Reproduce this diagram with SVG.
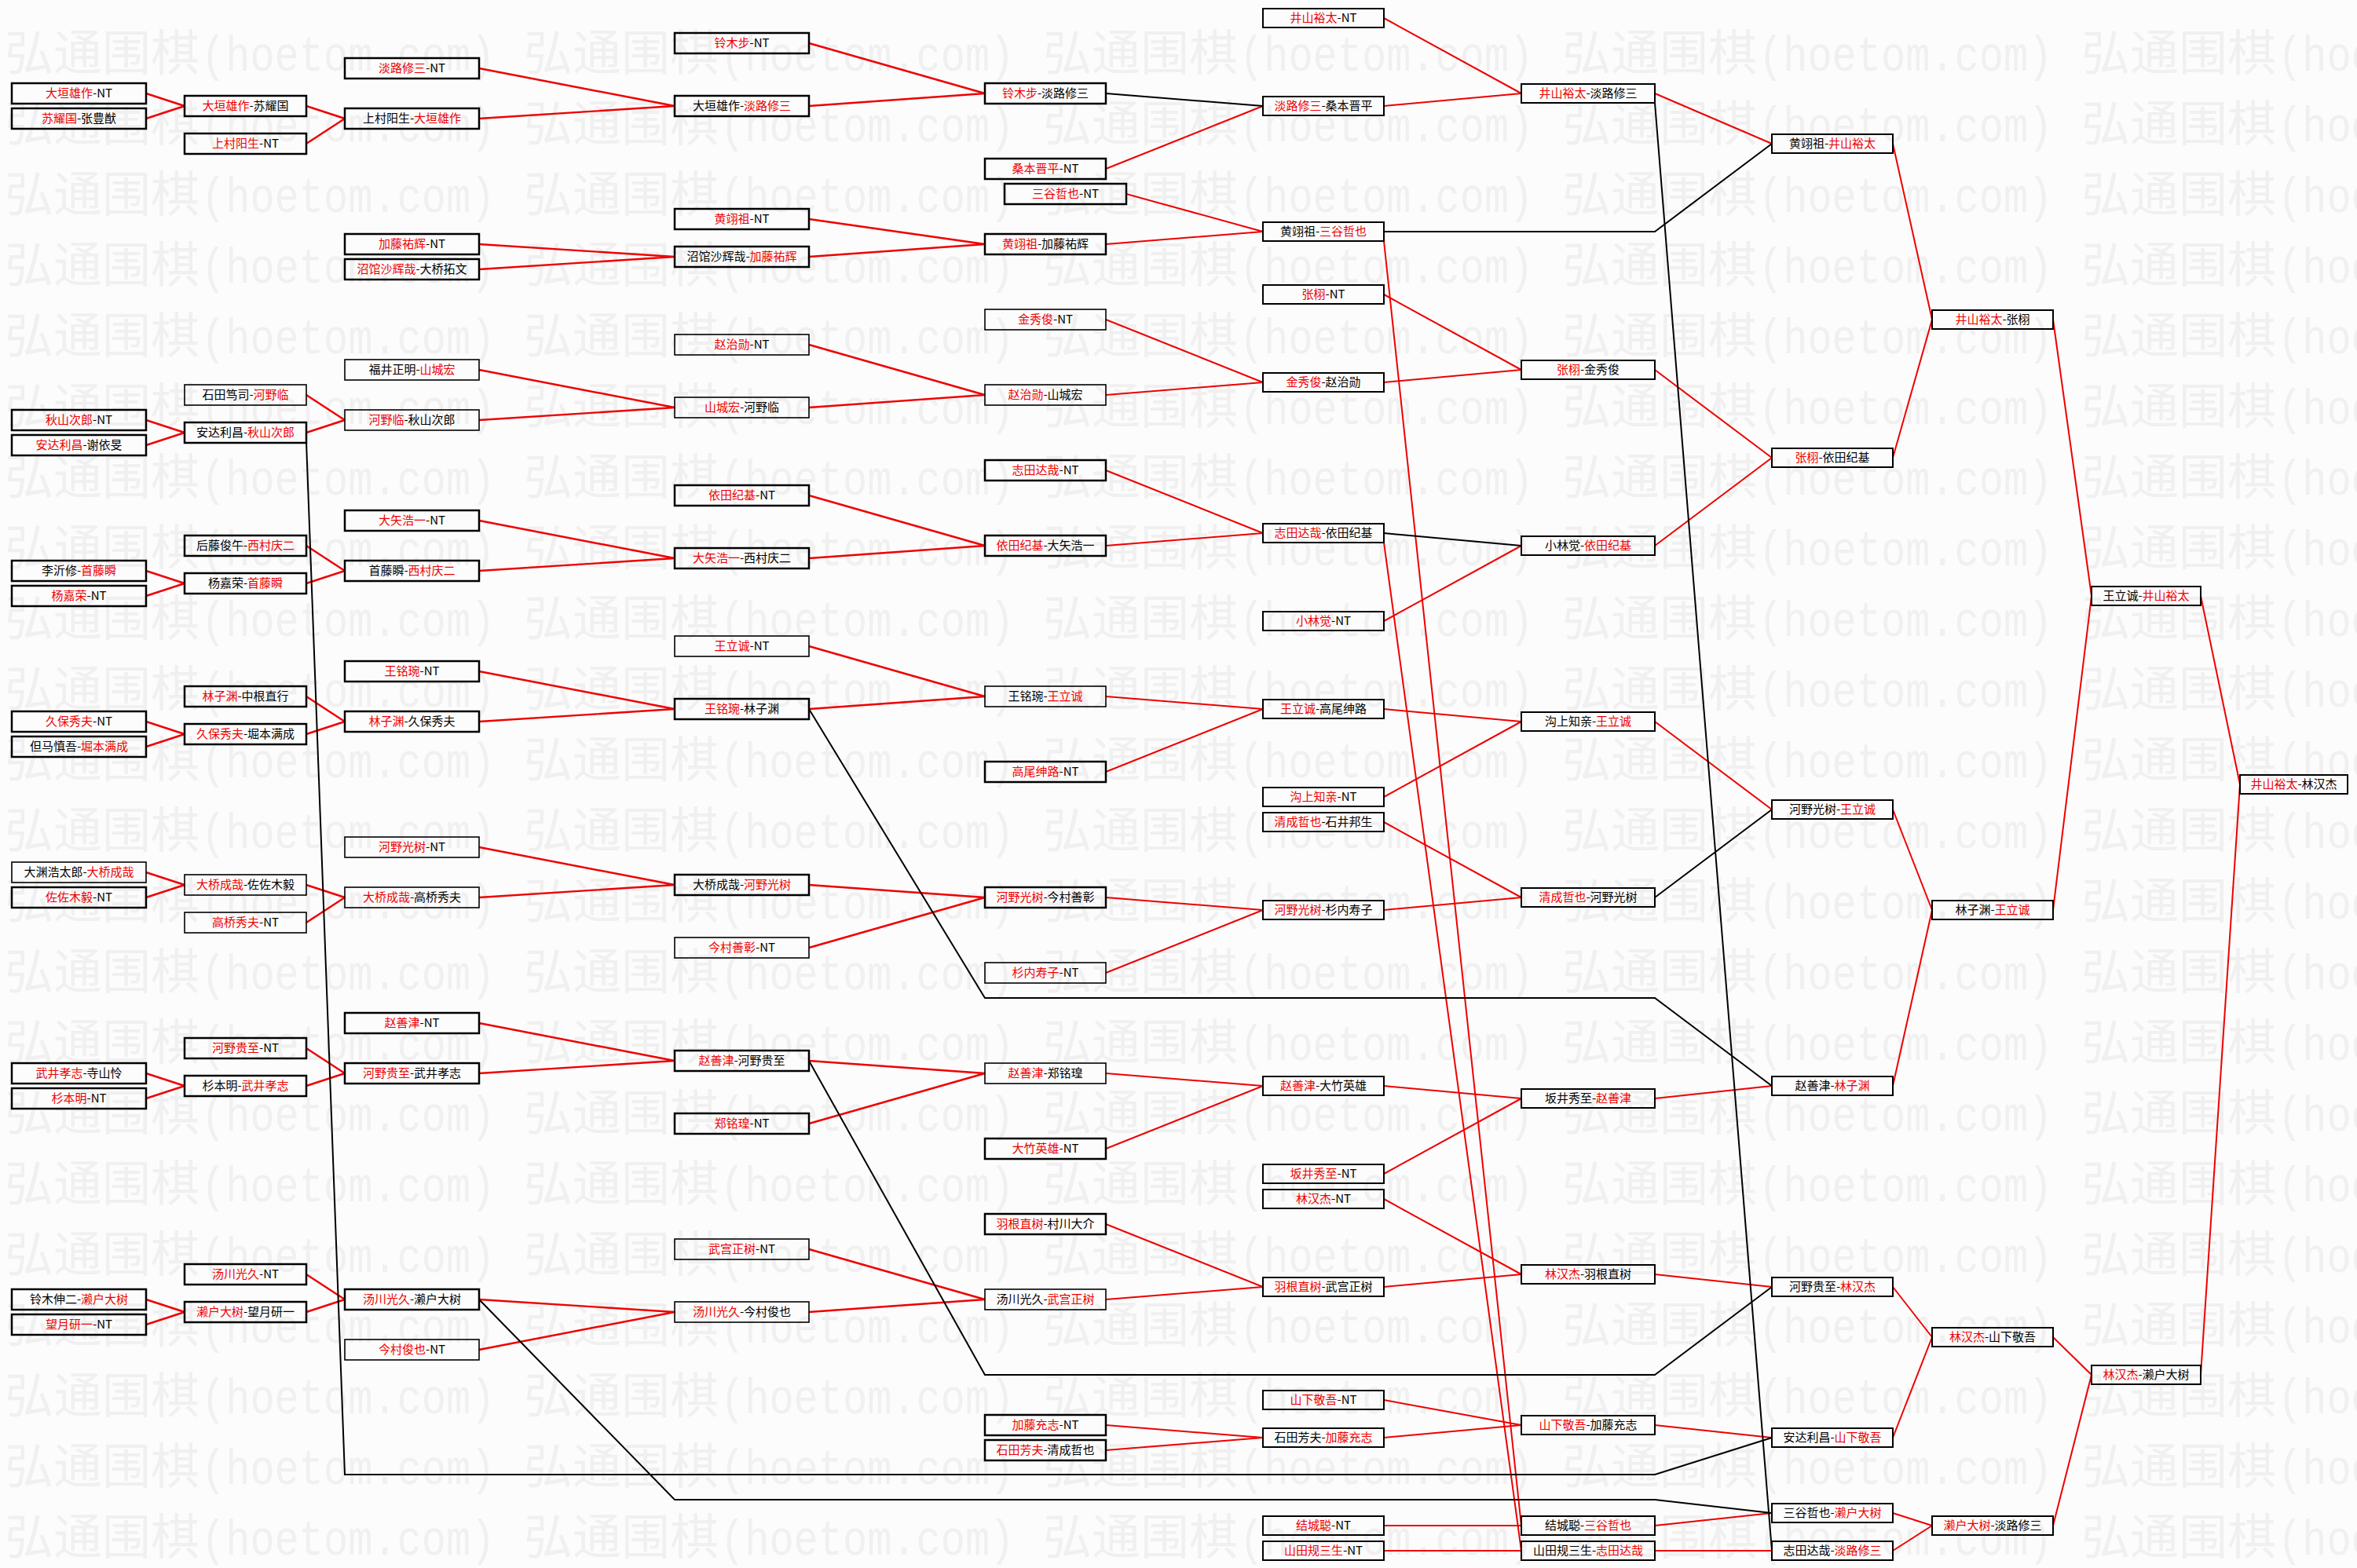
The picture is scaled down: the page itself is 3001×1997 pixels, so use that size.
<svg xmlns="http://www.w3.org/2000/svg" width="3001" height="1997" viewBox="0 0 3001 1997">
<style>
.bx{fill:none;stroke:#000;stroke-width:2.5}
.thin{stroke-width:1.6}
.rb{fill:none;stroke:#000;stroke-width:2}
.t{font-family:"Noto Sans CJK SC","Noto Sans",sans-serif;font-size:15px;fill:#000;text-anchor:middle}
.r{fill:#ee0000}
.lr{fill:none;stroke:#ee0000;stroke-width:2.4}
.lr2{fill:none;stroke:#ee0000;stroke-width:2}
.lb{fill:none;stroke:#000;stroke-width:2}
.wm1{font-family:"Noto Sans CJK SC",sans-serif;font-size:62px;fill:#f0f0f0}
.wm2{font-family:"Liberation Mono",monospace;font-size:52px;fill:#f0f0f0}
</style>
<defs>
<pattern id="wm" patternUnits="userSpaceOnUse" x="6" y="30" width="661" height="90">
<text class="wm1" x="0" y="60">弘通围棋</text>
<text class="wm2" transform="translate(250,60) scale(1,1.2)" x="0" y="0">(hoetom.com)</text>
</pattern>
</defs>
<rect x="0" y="0" width="3001" height="1997" fill="#fcfcfc"/>
<rect x="0" y="30" width="3001" height="1967" fill="url(#wm)"/>

<g id="connectors">
<path class="lr" d="M186 119L235 135M186 151L235 135M186 535L235 551M186 567L235 551M186 727L235 743M186 759L235 743M186 919L235 935M186 951L235 935M186 1111L235 1127M186 1143L235 1127M186 1367L235 1383M186 1399L235 1383M186 1655L235 1671M186 1687L235 1671"/>
<path class="lr" d="M390 135L439 151M390 183L439 151M390 503L439 535M390 551L439 535M390 695L439 727M390 743L439 727M390 887L439 919M390 935L439 919M390 1127L439 1143M390 1175L439 1143M390 1335L439 1367M390 1383L439 1367M390 1623L439 1655M390 1671L439 1655"/>
<path class="lr" d="M610 87L859 135M610 151L859 135M610 311L859 327M610 343L859 327M610 471L859 519M610 535L859 519M610 663L859 711M610 727L859 711M610 855L859 903M610 919L859 903M610 1079L859 1127M610 1143L859 1127M610 1303L859 1351M610 1367L859 1351M610 1655L859 1671M610 1719L859 1671"/>
<path class="lr" d="M1030 55L1254 119M1030 135L1254 119M1030 279L1254 311M1030 327L1254 311M1030 439L1254 503M1030 519L1254 503M1030 631L1254 695M1030 711L1254 695M1030 823L1254 887M1030 903L1254 887M1030 1127L1254 1143M1030 1207L1254 1143M1030 1351L1254 1367M1030 1431L1254 1367M1030 1591L1254 1655M1030 1671L1254 1655"/>
<path class="lr2" d="M1408 215L1608 135M1434 247L1608 295M1408 311L1608 295M1408 407L1608 487M1408 503L1608 487M1408 599L1608 679M1408 695L1608 679M1408 887L1608 903M1408 983L1608 903M1408 1143L1608 1159M1408 1239L1608 1159M1408 1367L1608 1383M1408 1463L1608 1383M1408 1559L1608 1639M1408 1655L1608 1639M1408 1815L1608 1831M1408 1847L1608 1831"/>
<path class="lr2" d="M1762 23L1937 119M1762 135L1937 119M1762 375L1937 471M1762 487L1937 471M1762 791L1937 695M1762 903L1937 919M1762 1015L1937 919M1762 1047L1937 1143M1762 1159L1937 1143M1762 1383L1937 1399M1762 1495L1937 1399M1762 1527L1937 1623M1762 1639L1937 1623M1762 1783L1937 1815M1762 1831L1937 1815M1762 1943L1937 1943M1762 1975L1937 1975"/>
<path class="lr2" d="M1762 307L1937 1943M1762 691L1937 1975"/>
<path class="lr2" d="M2107 119L2256 183M2107 471L2256 583M2107 695L2256 583M2107 919L2256 1031M2107 1399L2256 1383M2107 1623L2256 1639M2107 1815L2256 1831M2107 1943L2256 1927M2107 1975L2256 1975"/>
<path class="lr2" d="M2410 183L2460 407M2410 583L2460 407M2410 1031L2460 1159M2410 1383L2460 1159M2410 1639L2460 1703M2410 1831L2460 1703M2410 1927L2460 1943M2410 1975L2460 1943"/>
<path class="lr2" d="M2614 407L2663 759M2614 1159L2663 759M2614 1703L2663 1751M2614 1943L2663 1751M2802 759L2852 999M2802 1751L2852 999"/>
<path class="lb" d="M1408 119L1608 135M1762 679L1937 695M2107 1143L2256 1031M2107 131L2256 1975"/>
<path class="lb" d="M1762 295L2107 295L2256 183"/>
<path class="lb" d="M390 563L439 1878L2107 1878L2256 1831"/>
<path class="lb" d="M610 1655L859 1910L2107 1910L2256 1927"/>
<path class="lb" d="M1030 903L1254 1271L2107 1271L2256 1383"/>
<path class="lb" d="M1030 1351L1254 1751L2107 1751L2256 1639"/>
</g>

<g id="c1">
<g id="n1-7"><rect class="bx" x="15" y="106" width="171" height="26"/><text class="t" x="100.5" y="124"><tspan class="r">大垣雄作</tspan>-NT</text></g>
<g id="n1-9"><rect class="bx" x="15" y="138" width="171" height="26"/><text class="t" x="100.5" y="156"><tspan class="r">苏耀国</tspan>-张豊猷</text></g>
<g id="n1-33"><rect class="bx" x="15" y="522" width="171" height="26"/><text class="t" x="100.5" y="540"><tspan class="r">秋山次郎</tspan>-NT</text></g>
<g id="n1-35"><rect class="bx" x="15" y="554" width="171" height="26"/><text class="t" x="100.5" y="572"><tspan class="r">安达利昌</tspan>-谢依旻</text></g>
<g id="n1-45"><rect class="bx" x="15" y="714" width="171" height="26"/><text class="t" x="100.5" y="732">李沂修-<tspan class="r">首藤瞬</tspan></text></g>
<g id="n1-47"><rect class="bx" x="15" y="746" width="171" height="26"/><text class="t" x="100.5" y="764"><tspan class="r">杨嘉荣</tspan>-NT</text></g>
<g id="n1-57"><rect class="bx" x="15" y="906" width="171" height="26"/><text class="t" x="100.5" y="924"><tspan class="r">久保秀夫</tspan>-NT</text></g>
<g id="n1-59"><rect class="bx" x="15" y="938" width="171" height="26"/><text class="t" x="100.5" y="956">但马慎吾-<tspan class="r">堀本满成</tspan></text></g>
<g id="n1-69"><rect class="bx thin" x="15" y="1098" width="171" height="26"/><text class="t" x="100.5" y="1116">大渊浩太郎-<tspan class="r">大桥成哉</tspan></text></g>
<g id="n1-71"><rect class="bx" x="15" y="1130" width="171" height="26"/><text class="t" x="100.5" y="1148"><tspan class="r">佐佐木毅</tspan>-NT</text></g>
<g id="n1-85"><rect class="bx" x="15" y="1354" width="171" height="26"/><text class="t" x="100.5" y="1372"><tspan class="r">武井孝志</tspan>-寺山怜</text></g>
<g id="n1-87"><rect class="bx" x="15" y="1386" width="171" height="26"/><text class="t" x="100.5" y="1404"><tspan class="r">杉本明</tspan>-NT</text></g>
<g id="n1-103"><rect class="bx" x="15" y="1642" width="171" height="26"/><text class="t" x="100.5" y="1660">铃木伸二-<tspan class="r">濑户大树</tspan></text></g>
<g id="n1-105"><rect class="bx" x="15" y="1674" width="171" height="26"/><text class="t" x="100.5" y="1692"><tspan class="r">望月研一</tspan>-NT</text></g>
</g>

<g id="c2">
<g id="n2-8"><rect class="bx" x="235" y="122" width="155" height="26"/><text class="t" x="312.5" y="140"><tspan class="r">大垣雄作</tspan>-苏耀国</text></g>
<g id="n2-11"><rect class="bx" x="235" y="170" width="155" height="26"/><text class="t" x="312.5" y="188"><tspan class="r">上村阳生</tspan>-NT</text></g>
<g id="n2-31"><rect class="bx thin" x="235" y="490" width="155" height="26"/><text class="t" x="312.5" y="508">石田笃司-<tspan class="r">河野临</tspan></text></g>
<g id="n2-34"><rect class="bx" x="235" y="538" width="155" height="26"/><text class="t" x="312.5" y="556">安达利昌-<tspan class="r">秋山次郎</tspan></text></g>
<g id="n2-43"><rect class="bx" x="235" y="682" width="155" height="26"/><text class="t" x="312.5" y="700">后藤俊午-<tspan class="r">西村庆二</tspan></text></g>
<g id="n2-46"><rect class="bx" x="235" y="730" width="155" height="26"/><text class="t" x="312.5" y="748">杨嘉荣-<tspan class="r">首藤瞬</tspan></text></g>
<g id="n2-55"><rect class="bx" x="235" y="874" width="155" height="26"/><text class="t" x="312.5" y="892"><tspan class="r">林子渊</tspan>-中根直行</text></g>
<g id="n2-58"><rect class="bx" x="235" y="922" width="155" height="26"/><text class="t" x="312.5" y="940"><tspan class="r">久保秀夫</tspan>-堀本满成</text></g>
<g id="n2-70"><rect class="bx thin" x="235" y="1114" width="155" height="26"/><text class="t" x="312.5" y="1132"><tspan class="r">大桥成哉</tspan>-佐佐木毅</text></g>
<g id="n2-73"><rect class="bx thin" x="235" y="1162" width="155" height="26"/><text class="t" x="312.5" y="1180"><tspan class="r">高桥秀夫</tspan>-NT</text></g>
<g id="n2-83"><rect class="bx" x="235" y="1322" width="155" height="26"/><text class="t" x="312.5" y="1340"><tspan class="r">河野贵至</tspan>-NT</text></g>
<g id="n2-86"><rect class="bx" x="235" y="1370" width="155" height="26"/><text class="t" x="312.5" y="1388">杉本明-<tspan class="r">武井孝志</tspan></text></g>
<g id="n2-101"><rect class="bx" x="235" y="1610" width="155" height="26"/><text class="t" x="312.5" y="1628"><tspan class="r">汤川光久</tspan>-NT</text></g>
<g id="n2-104"><rect class="bx" x="235" y="1658" width="155" height="26"/><text class="t" x="312.5" y="1676"><tspan class="r">濑户大树</tspan>-望月研一</text></g>
</g>

<g id="c3">
<g id="n3-5"><rect class="bx" x="439" y="74" width="171" height="26"/><text class="t" x="524.5" y="92"><tspan class="r">淡路修三</tspan>-NT</text></g>
<g id="n3-9"><rect class="bx" x="439" y="138" width="171" height="26"/><text class="t" x="524.5" y="156">上村阳生-<tspan class="r">大垣雄作</tspan></text></g>
<g id="n3-19"><rect class="bx" x="439" y="298" width="171" height="26"/><text class="t" x="524.5" y="316"><tspan class="r">加藤祐辉</tspan>-NT</text></g>
<g id="n3-21"><rect class="bx" x="439" y="330" width="171" height="26"/><text class="t" x="524.5" y="348"><tspan class="r">沼馆沙辉哉</tspan>-大桥拓文</text></g>
<g id="n3-29"><rect class="bx thin" x="439" y="458" width="171" height="26"/><text class="t" x="524.5" y="476">福井正明-<tspan class="r">山城宏</tspan></text></g>
<g id="n3-33"><rect class="bx thin" x="439" y="522" width="171" height="26"/><text class="t" x="524.5" y="540"><tspan class="r">河野临</tspan>-秋山次郎</text></g>
<g id="n3-41"><rect class="bx" x="439" y="650" width="171" height="26"/><text class="t" x="524.5" y="668"><tspan class="r">大矢浩一</tspan>-NT</text></g>
<g id="n3-45"><rect class="bx" x="439" y="714" width="171" height="26"/><text class="t" x="524.5" y="732">首藤瞬-<tspan class="r">西村庆二</tspan></text></g>
<g id="n3-53"><rect class="bx" x="439" y="842" width="171" height="26"/><text class="t" x="524.5" y="860"><tspan class="r">王铭琬</tspan>-NT</text></g>
<g id="n3-57"><rect class="bx" x="439" y="906" width="171" height="26"/><text class="t" x="524.5" y="924"><tspan class="r">林子渊</tspan>-久保秀夫</text></g>
<g id="n3-67"><rect class="bx thin" x="439" y="1066" width="171" height="26"/><text class="t" x="524.5" y="1084"><tspan class="r">河野光树</tspan>-NT</text></g>
<g id="n3-71"><rect class="bx thin" x="439" y="1130" width="171" height="26"/><text class="t" x="524.5" y="1148"><tspan class="r">大桥成哉</tspan>-高桥秀夫</text></g>
<g id="n3-81"><rect class="bx" x="439" y="1290" width="171" height="26"/><text class="t" x="524.5" y="1308"><tspan class="r">赵善津</tspan>-NT</text></g>
<g id="n3-85"><rect class="bx" x="439" y="1354" width="171" height="26"/><text class="t" x="524.5" y="1372"><tspan class="r">河野贵至</tspan>-武井孝志</text></g>
<g id="n3-103"><rect class="bx" x="439" y="1642" width="171" height="26"/><text class="t" x="524.5" y="1660"><tspan class="r">汤川光久</tspan>-濑户大树</text></g>
<g id="n3-107"><rect class="bx thin" x="439" y="1706" width="171" height="26"/><text class="t" x="524.5" y="1724"><tspan class="r">今村俊也</tspan>-NT</text></g>
</g>

<g id="c4">
<g id="n4-3"><rect class="bx" x="859" y="42" width="171" height="26"/><text class="t" x="944.5" y="60"><tspan class="r">铃木步</tspan>-NT</text></g>
<g id="n4-8"><rect class="bx" x="859" y="122" width="171" height="26"/><text class="t" x="944.5" y="140">大垣雄作-<tspan class="r">淡路修三</tspan></text></g>
<g id="n4-17"><rect class="bx" x="859" y="266" width="171" height="26"/><text class="t" x="944.5" y="284"><tspan class="r">黄翊祖</tspan>-NT</text></g>
<g id="n4-20"><rect class="bx" x="859" y="314" width="171" height="26"/><text class="t" x="944.5" y="332">沼馆沙辉哉-<tspan class="r">加藤祐辉</tspan></text></g>
<g id="n4-27"><rect class="bx thin" x="859" y="426" width="171" height="26"/><text class="t" x="944.5" y="444"><tspan class="r">赵治勋</tspan>-NT</text></g>
<g id="n4-32"><rect class="bx thin" x="859" y="506" width="171" height="26"/><text class="t" x="944.5" y="524"><tspan class="r">山城宏</tspan>-河野临</text></g>
<g id="n4-39"><rect class="bx" x="859" y="618" width="171" height="26"/><text class="t" x="944.5" y="636"><tspan class="r">依田纪基</tspan>-NT</text></g>
<g id="n4-44"><rect class="bx" x="859" y="698" width="171" height="26"/><text class="t" x="944.5" y="716"><tspan class="r">大矢浩一</tspan>-西村庆二</text></g>
<g id="n4-51"><rect class="bx thin" x="859" y="810" width="171" height="26"/><text class="t" x="944.5" y="828"><tspan class="r">王立诚</tspan>-NT</text></g>
<g id="n4-56"><rect class="bx" x="859" y="890" width="171" height="26"/><text class="t" x="944.5" y="908"><tspan class="r">王铭琬</tspan>-林子渊</text></g>
<g id="n4-70"><rect class="bx" x="859" y="1114" width="171" height="26"/><text class="t" x="944.5" y="1132">大桥成哉-<tspan class="r">河野光树</tspan></text></g>
<g id="n4-75"><rect class="bx thin" x="859" y="1194" width="171" height="26"/><text class="t" x="944.5" y="1212"><tspan class="r">今村善彰</tspan>-NT</text></g>
<g id="n4-84"><rect class="bx" x="859" y="1338" width="171" height="26"/><text class="t" x="944.5" y="1356"><tspan class="r">赵善津</tspan>-河野贵至</text></g>
<g id="n4-89"><rect class="bx" x="859" y="1418" width="171" height="26"/><text class="t" x="944.5" y="1436"><tspan class="r">郑铭瑝</tspan>-NT</text></g>
<g id="n4-99"><rect class="bx thin" x="859" y="1578" width="171" height="26"/><text class="t" x="944.5" y="1596"><tspan class="r">武宫正树</tspan>-NT</text></g>
<g id="n4-104"><rect class="bx thin" x="859" y="1658" width="171" height="26"/><text class="t" x="944.5" y="1676"><tspan class="r">汤川光久</tspan>-今村俊也</text></g>
</g>

<g id="c5">
<g id="n5-7"><rect class="bx" x="1254" y="106" width="154" height="26"/><text class="t" x="1331" y="124"><tspan class="r">铃木步</tspan>-淡路修三</text></g>
<g id="n5-13"><rect class="bx" x="1254" y="202" width="154" height="26"/><text class="t" x="1331" y="220"><tspan class="r">桑本晋平</tspan>-NT</text></g>
<g id="n5-15"><rect class="bx" x="1279" y="234" width="155" height="26"/><text class="t" x="1356.5" y="252"><tspan class="r">三谷哲也</tspan>-NT</text></g>
<g id="n5-19"><rect class="bx" x="1254" y="298" width="154" height="26"/><text class="t" x="1331" y="316"><tspan class="r">黄翊祖</tspan>-加藤祐辉</text></g>
<g id="n5-25"><rect class="bx thin" x="1254" y="394" width="154" height="26"/><text class="t" x="1331" y="412"><tspan class="r">金秀俊</tspan>-NT</text></g>
<g id="n5-31"><rect class="bx thin" x="1254" y="490" width="154" height="26"/><text class="t" x="1331" y="508"><tspan class="r">赵治勋</tspan>-山城宏</text></g>
<g id="n5-37"><rect class="bx" x="1254" y="586" width="154" height="26"/><text class="t" x="1331" y="604"><tspan class="r">志田达哉</tspan>-NT</text></g>
<g id="n5-43"><rect class="bx" x="1254" y="682" width="154" height="26"/><text class="t" x="1331" y="700"><tspan class="r">依田纪基</tspan>-大矢浩一</text></g>
<g id="n5-55"><rect class="bx thin" x="1254" y="874" width="154" height="26"/><text class="t" x="1331" y="892">王铭琬-<tspan class="r">王立诚</tspan></text></g>
<g id="n5-61"><rect class="bx" x="1254" y="970" width="154" height="26"/><text class="t" x="1331" y="988"><tspan class="r">高尾绅路</tspan>-NT</text></g>
<g id="n5-71"><rect class="bx" x="1254" y="1130" width="154" height="26"/><text class="t" x="1331" y="1148"><tspan class="r">河野光树</tspan>-今村善彰</text></g>
<g id="n5-77"><rect class="bx thin" x="1254" y="1226" width="154" height="26"/><text class="t" x="1331" y="1244"><tspan class="r">杉内寿子</tspan>-NT</text></g>
<g id="n5-85"><rect class="bx thin" x="1254" y="1354" width="154" height="26"/><text class="t" x="1331" y="1372"><tspan class="r">赵善津</tspan>-郑铭瑝</text></g>
<g id="n5-91"><rect class="bx" x="1254" y="1450" width="154" height="26"/><text class="t" x="1331" y="1468"><tspan class="r">大竹英雄</tspan>-NT</text></g>
<g id="n5-97"><rect class="bx" x="1254" y="1546" width="154" height="26"/><text class="t" x="1331" y="1564"><tspan class="r">羽根直树</tspan>-村川大介</text></g>
<g id="n5-103"><rect class="bx thin" x="1254" y="1642" width="154" height="26"/><text class="t" x="1331" y="1660">汤川光久-<tspan class="r">武宫正树</tspan></text></g>
<g id="n5-113"><rect class="bx" x="1254" y="1802" width="154" height="26"/><text class="t" x="1331" y="1820"><tspan class="r">加藤充志</tspan>-NT</text></g>
<g id="n5-115"><rect class="bx" x="1254" y="1834" width="154" height="26"/><text class="t" x="1331" y="1852"><tspan class="r">石田芳夫</tspan>-清成哲也</text></g>
</g>

<g id="c6">
<g id="n6-1"><rect class="rb" x="1608" y="11" width="154" height="24"/><text class="t" x="1685" y="28"><tspan class="r">井山裕太</tspan>-NT</text></g>
<g id="n6-8"><rect class="rb" x="1608" y="123" width="154" height="24"/><text class="t" x="1685" y="140"><tspan class="r">淡路修三</tspan>-桑本晋平</text></g>
<g id="n6-18"><rect class="rb" x="1608" y="283" width="154" height="24"/><text class="t" x="1685" y="300">黄翊祖-<tspan class="r">三谷哲也</tspan></text></g>
<g id="n6-23"><rect class="rb" x="1608" y="363" width="154" height="24"/><text class="t" x="1685" y="380"><tspan class="r">张栩</tspan>-NT</text></g>
<g id="n6-30"><rect class="rb" x="1608" y="475" width="154" height="24"/><text class="t" x="1685" y="492"><tspan class="r">金秀俊</tspan>-赵治勋</text></g>
<g id="n6-42"><rect class="rb" x="1608" y="667" width="154" height="24"/><text class="t" x="1685" y="684"><tspan class="r">志田达哉</tspan>-依田纪基</text></g>
<g id="n6-49"><rect class="rb" x="1608" y="779" width="154" height="24"/><text class="t" x="1685" y="796"><tspan class="r">小林觉</tspan>-NT</text></g>
<g id="n6-56"><rect class="rb" x="1608" y="891" width="154" height="24"/><text class="t" x="1685" y="908"><tspan class="r">王立诚</tspan>-高尾绅路</text></g>
<g id="n6-63"><rect class="rb" x="1608" y="1003" width="154" height="24"/><text class="t" x="1685" y="1020"><tspan class="r">沟上知亲</tspan>-NT</text></g>
<g id="n6-65"><rect class="rb" x="1608" y="1035" width="154" height="24"/><text class="t" x="1685" y="1052"><tspan class="r">清成哲也</tspan>-石井邦生</text></g>
<g id="n6-72"><rect class="rb" x="1608" y="1147" width="154" height="24"/><text class="t" x="1685" y="1164"><tspan class="r">河野光树</tspan>-杉内寿子</text></g>
<g id="n6-86"><rect class="rb" x="1608" y="1371" width="154" height="24"/><text class="t" x="1685" y="1388"><tspan class="r">赵善津</tspan>-大竹英雄</text></g>
<g id="n6-93"><rect class="rb" x="1608" y="1483" width="154" height="24"/><text class="t" x="1685" y="1500"><tspan class="r">坂井秀至</tspan>-NT</text></g>
<g id="n6-95"><rect class="rb" x="1608" y="1515" width="154" height="24"/><text class="t" x="1685" y="1532"><tspan class="r">林汉杰</tspan>-NT</text></g>
<g id="n6-102"><rect class="rb" x="1608" y="1627" width="154" height="24"/><text class="t" x="1685" y="1644"><tspan class="r">羽根直树</tspan>-武宫正树</text></g>
<g id="n6-111"><rect class="rb" x="1608" y="1771" width="154" height="24"/><text class="t" x="1685" y="1788"><tspan class="r">山下敬吾</tspan>-NT</text></g>
<g id="n6-114"><rect class="rb" x="1608" y="1819" width="154" height="24"/><text class="t" x="1685" y="1836">石田芳夫-<tspan class="r">加藤充志</tspan></text></g>
<g id="n6-121"><rect class="rb" x="1608" y="1931" width="154" height="24"/><text class="t" x="1685" y="1948"><tspan class="r">结城聪</tspan>-NT</text></g>
<g id="n6-123"><rect class="rb" x="1608" y="1963" width="154" height="24"/><text class="t" x="1685" y="1980"><tspan class="r">山田规三生</tspan>-NT</text></g>
</g>

<g id="c7">
<g id="n7-7"><rect class="rb" x="1937" y="107" width="170" height="24"/><text class="t" x="2022" y="124"><tspan class="r">井山裕太</tspan>-淡路修三</text></g>
<g id="n7-29"><rect class="rb" x="1937" y="459" width="170" height="24"/><text class="t" x="2022" y="476"><tspan class="r">张栩</tspan>-金秀俊</text></g>
<g id="n7-43"><rect class="rb" x="1937" y="683" width="170" height="24"/><text class="t" x="2022" y="700">小林觉-<tspan class="r">依田纪基</tspan></text></g>
<g id="n7-57"><rect class="rb" x="1937" y="907" width="170" height="24"/><text class="t" x="2022" y="924">沟上知亲-<tspan class="r">王立诚</tspan></text></g>
<g id="n7-71"><rect class="rb" x="1937" y="1131" width="170" height="24"/><text class="t" x="2022" y="1148"><tspan class="r">清成哲也</tspan>-河野光树</text></g>
<g id="n7-87"><rect class="rb" x="1937" y="1387" width="170" height="24"/><text class="t" x="2022" y="1404">坂井秀至-<tspan class="r">赵善津</tspan></text></g>
<g id="n7-101"><rect class="rb" x="1937" y="1611" width="170" height="24"/><text class="t" x="2022" y="1628"><tspan class="r">林汉杰</tspan>-羽根直树</text></g>
<g id="n7-113"><rect class="rb" x="1937" y="1803" width="170" height="24"/><text class="t" x="2022" y="1820"><tspan class="r">山下敬吾</tspan>-加藤充志</text></g>
<g id="n7-121"><rect class="rb" x="1937" y="1931" width="170" height="24"/><text class="t" x="2022" y="1948">结城聪-<tspan class="r">三谷哲也</tspan></text></g>
<g id="n7-123"><rect class="rb" x="1937" y="1963" width="170" height="24"/><text class="t" x="2022" y="1980">山田规三生-<tspan class="r">志田达哉</tspan></text></g>
</g>

<g id="c8">
<g id="n8-11"><rect class="rb" x="2256" y="171" width="154" height="24"/><text class="t" x="2333" y="188">黄翊祖-<tspan class="r">井山裕太</tspan></text></g>
<g id="n8-36"><rect class="rb" x="2256" y="571" width="154" height="24"/><text class="t" x="2333" y="588"><tspan class="r">张栩</tspan>-依田纪基</text></g>
<g id="n8-64"><rect class="rb" x="2256" y="1019" width="154" height="24"/><text class="t" x="2333" y="1036">河野光树-<tspan class="r">王立诚</tspan></text></g>
<g id="n8-86"><rect class="rb" x="2256" y="1371" width="154" height="24"/><text class="t" x="2333" y="1388">赵善津-<tspan class="r">林子渊</tspan></text></g>
<g id="n8-102"><rect class="rb" x="2256" y="1627" width="154" height="24"/><text class="t" x="2333" y="1644">河野贵至-<tspan class="r">林汉杰</tspan></text></g>
<g id="n8-114"><rect class="rb" x="2256" y="1819" width="154" height="24"/><text class="t" x="2333" y="1836">安达利昌-<tspan class="r">山下敬吾</tspan></text></g>
<g id="n8-120"><rect class="rb" x="2256" y="1915" width="154" height="24"/><text class="t" x="2333" y="1932">三谷哲也-<tspan class="r">濑户大树</tspan></text></g>
<g id="n8-123"><rect class="rb" x="2256" y="1963" width="154" height="24"/><text class="t" x="2333" y="1980">志田达哉-<tspan class="r">淡路修三</tspan></text></g>
</g>

<g id="c9">
<g id="n9-25"><rect class="rb" x="2460" y="395" width="154" height="24"/><text class="t" x="2537" y="412"><tspan class="r">井山裕太</tspan>-张栩</text></g>
<g id="n9-72"><rect class="rb" x="2460" y="1147" width="154" height="24"/><text class="t" x="2537" y="1164">林子渊-<tspan class="r">王立诚</tspan></text></g>
<g id="n9-106"><rect class="rb" x="2460" y="1691" width="154" height="24"/><text class="t" x="2537" y="1708"><tspan class="r">林汉杰</tspan>-山下敬吾</text></g>
<g id="n9-121"><rect class="rb" x="2460" y="1931" width="154" height="24"/><text class="t" x="2537" y="1948"><tspan class="r">濑户大树</tspan>-淡路修三</text></g>
</g>

<g id="c10">
<g id="n10-47"><rect class="rb" x="2663" y="747" width="139" height="24"/><text class="t" x="2732.5" y="764">王立诚-<tspan class="r">井山裕太</tspan></text></g>
<g id="n10-109"><rect class="rb" x="2663" y="1739" width="139" height="24"/><text class="t" x="2732.5" y="1756"><tspan class="r">林汉杰</tspan>-濑户大树</text></g>
</g>

<g id="c11">
<g id="n11-62"><rect class="rb" x="2852" y="987" width="137" height="24"/><text class="t" x="2920.5" y="1004"><tspan class="r">井山裕太</tspan>-林汉杰</text></g>
</g>
</svg>
